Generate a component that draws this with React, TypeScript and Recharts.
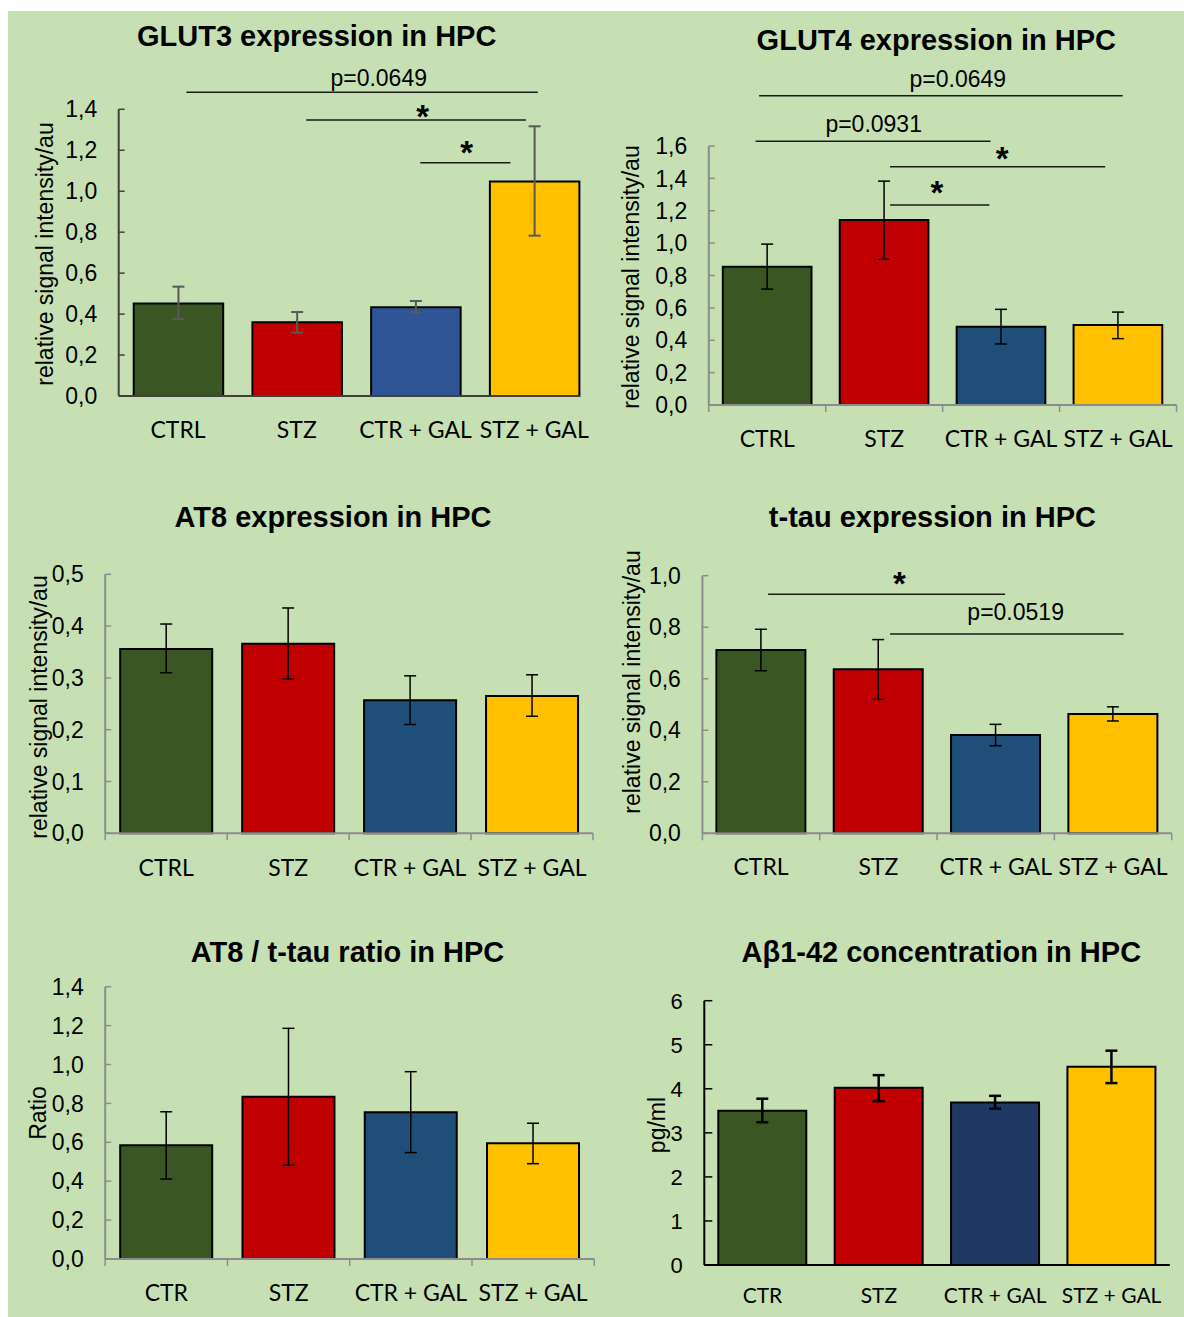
import React from 'react'
import { Bar, BarChart, Cell, ErrorBar, ReferenceDot, ReferenceLine, XAxis, YAxis } from 'recharts'

// groups
const groupsA = ['CTRL', 'STZ', 'CTR + GAL', 'STZ + GAL']
const groupsB = ['CTR', 'STZ', 'CTR + GAL', 'STZ + GAL']

// GLUT3
const glut3Mean = [0.452, 0.36, 0.433, 1.048]
const glut3Lo = [0.376, 0.309, 0.407, 0.783]
const glut3Hi = [0.534, 0.41, 0.464, 1.317]
const glut3Ticks = [0, 0.2, 0.4, 0.6, 0.8, 1.0, 1.2, 1.4]

// GLUT4
const glut4Mean = [0.854, 1.143, 0.484, 0.494]
const glut4Lo = [0.716, 0.9, 0.377, 0.41]
const glut4Hi = [0.994, 1.383, 0.591, 0.574]
const glut4Ticks = [0, 0.2, 0.4, 0.6, 0.8, 1.0, 1.2, 1.4, 1.6]

// AT8
const at8Mean = [0.356, 0.366, 0.257, 0.265]
const at8Lo = [0.31, 0.298, 0.21, 0.226]
const at8Hi = [0.404, 0.435, 0.304, 0.306]
const at8Ticks = [0, 0.1, 0.2, 0.3, 0.4, 0.5]

// t-tau
const tauMean = [0.712, 0.637, 0.382, 0.463]
const tauLo = [0.631, 0.52, 0.34, 0.436]
const tauHi = [0.792, 0.752, 0.423, 0.491]
const tauTicks = [0, 0.2, 0.4, 0.6, 0.8, 1.0]

// AT8 / t-tau
const ratioMean = [0.585, 0.834, 0.754, 0.595]
const ratioLo = [0.411, 0.483, 0.547, 0.49]
const ratioHi = [0.757, 1.186, 0.963, 0.698]
const ratioTicks = [0, 0.2, 0.4, 0.6, 0.8, 1.0, 1.2, 1.4]

// Abeta 1-42
const abMean = [3.5, 4.025, 3.69, 4.5]
const abLo = [3.24, 3.72, 3.55, 4.13]
const abHi = [3.775, 4.31, 3.84, 4.865]
const abTicks = [0, 1, 2, 3, 4, 5, 6]

// significance brackets (x on group index scale, y in value units)
type Bracket = { x1: number; x2: number; y: number; text: string; tx: number; ty: number }

const glut3Brackets: Bracket[] = [
  { x1: 0.07, x2: 3.03, y: 1.483, text: 'p=0.0649', tx: 1.69, ty: 1.514 },
  { x1: 1.08, x2: 2.93, y: 1.348, text: '*', tx: 2.06, ty: 1.294 },
  { x1: 2.04, x2: 2.8, y: 1.139, text: '*', tx: 2.43, ty: 1.118 },
]
const glut4Brackets: Bracket[] = [
  { x1: -0.07, x2: 3.04, y: 1.91, text: 'p=0.0649', tx: 1.63, ty: 1.962 },
  { x1: -0.1, x2: 1.91, y: 1.629, text: 'p=0.0931', tx: 0.91, ty: 1.684 },
  { x1: 1.05, x2: 2.89, y: 1.472, text: '*', tx: 2.01, ty: 1.433 },
  { x1: 1.05, x2: 1.9, y: 1.235, text: '*', tx: 1.45, ty: 1.223 },
]
const tauBrackets: Bracket[] = [
  { x1: 0.06, x2: 2.08, y: 0.928, text: '*', tx: 1.18, ty: 0.913 },
  { x1: 1.1, x2: 3.09, y: 0.774, text: 'p=0.0519', tx: 2.17, ty: 0.828 },
]

const GREEN = '#3A5723'
const RED = '#C00000'
const YELLOW = '#FFC000'
const ARIAL = '"Liberation Sans", Arial, sans-serif'

const panels = [
  {
    title: 'GLUT3 expression in HPC', yLabel: 'relative signal intensity/au', groups: groupsA,
    mean: glut3Mean, lo: glut3Lo, hi: glut3Hi, ticks: glut3Ticks, yMax: 1.4, brackets: glut3Brackets,
    colors: [GREEN, RED, '#2F5597', YELLOW], axisColor: '#404040', errColor: '#595959', errWidth: 2,
    boundaryTicks: false, axisEnd: 3.386, tickLen: 6, barSize: 89.5, labelDy: 41.7, catFont: 23, tickFont: 23,
    box: { left: 0, top: 0, width: 600, height: 470 }, margin: { left: 48.7, right: 6.4, top: 109.3, bottom: 24 },
    titlePos: [316.7, 36], yLabelPos: [45, 253.5],
  },
  {
    title: 'GLUT4 expression in HPC', yLabel: 'relative signal intensity/au', groups: groupsA,
    mean: glut4Mean, lo: glut4Lo, hi: glut4Hi, ticks: glut4Ticks, yMax: 1.6, brackets: glut4Brackets,
    colors: [GREEN, RED, '#1F4E79', YELLOW], axisColor: '#8C8C8C', errColor: '#000', errWidth: 1.5,
    boundaryTicks: true, tickLen: 6, barSize: 88.7, labelDy: 41.7, catFont: 23, tickFont: 23,
    box: { left: 600, top: 0, width: 584, height: 470 }, margin: { left: 38.8, right: 7.5, top: 146, bottom: 15 },
    titlePos: [936.3, 40], yLabelPos: [631, 276.5],
  },
  {
    title: 'AT8 expression in HPC', yLabel: 'relative signal intensity/au', groups: groupsA,
    mean: at8Mean, lo: at8Lo, hi: at8Hi, ticks: at8Ticks, yMax: 0.5, brackets: [] as Bracket[],
    colors: [GREEN, RED, '#1F4E79', YELLOW], axisColor: '#8C8C8C', errColor: '#000', errWidth: 1.5,
    boundaryTicks: true, tickLen: 6, barSize: 92, labelDy: 42.7, catFont: 23, tickFont: 23,
    box: { left: 0, top: 470, width: 600, height: 430 }, margin: { left: 35.2, right: 7, top: 104.3, bottom: 16.7 },
    titlePos: [333, 516.7], yLabelPos: [39, 706.5],
  },
  {
    title: 't-tau expression in HPC', yLabel: 'relative signal intensity/au', groups: groupsA,
    mean: tauMean, lo: tauLo, hi: tauHi, ticks: tauTicks, yMax: 1.0, brackets: tauBrackets,
    colors: [GREEN, RED, '#1F4E79', YELLOW], axisColor: '#8C8C8C', errColor: '#000', errWidth: 1.5,
    boundaryTicks: true, tickLen: 6, barSize: 89, labelDy: 42, catFont: 23, tickFont: 23,
    box: { left: 600, top: 470, width: 584, height: 430 }, margin: { left: 32.4, right: 12.3, top: 105.7, bottom: 16.7 },
    titlePos: [932.4, 516.7], yLabelPos: [631.5, 682],
  },
  {
    title: 'AT8  / t-tau ratio in HPC', yLabel: 'Ratio', groups: groupsB,
    mean: ratioMean, lo: ratioLo, hi: ratioHi, ticks: ratioTicks, yMax: 1.4, brackets: [] as Bracket[],
    colors: [GREEN, RED, '#1F4E79', YELLOW], axisColor: '#8C8C8C', errColor: '#000', errWidth: 1.5,
    boundaryTicks: true, tickLen: 6, barSize: 92, labelDy: 42, catFont: 23, tickFont: 23,
    box: { left: 0, top: 900, width: 600, height: 417 }, margin: { left: 35.2, right: 5.7, top: 86.7, bottom: 8 },
    titlePos: [347.5, 951.7], yLabelPos: [38, 1113],
  },
  {
    title: 'Aβ1-42 concentration in HPC', yLabel: 'pg/ml', groups: groupsB,
    mean: abMean, lo: abLo, hi: abHi, ticks: abTicks, yMax: 6, brackets: [] as Bracket[],
    colors: [GREEN, RED, '#1F3864', YELLOW], axisColor: '#000', errColor: '#000', errWidth: 2.5,
    boundaryTicks: false, tickLen: 8, barSize: 88, labelDy: 38.3, catFont: 21, tickFont: 22,
    box: { left: 600, top: 900, width: 584, height: 417 }, margin: { left: 34.3, right: 14.2, top: 100.7, bottom: 2 },
    titlePos: [941.3, 951.7], yLabelPos: [657, 1125],
  },
]

type PanelCfg = (typeof panels)[number] & { axisEnd?: number }

const xTicks = [-0.5, 0, 0.5, 1, 1.5, 2, 2.5, 3, 3.5]

function Panel({ p }: { p: PanelCfg }) {
  const data = p.groups.map((g, i) => ({
    x: i,
    name: g,
    value: p.mean[i],
    err: [p.mean[i] - p.lo[i], p.hi[i] - p.mean[i]],
  }))
  const decimals = p.yMax > 2 ? 0 : 1
  const fmt = (v: number) => v.toFixed(decimals).replace('.', ',')

  const renderTick = (props: any) => {
    const { x, y, payload } = props
    const v = payload.value
    if (Number.isInteger(v)) {
      return (
        <text x={x} y={y + p.labelDy} textAnchor="middle" fontFamily="Lato, sans-serif" fontSize={p.catFont} fill="#000">
          {p.groups[v]}
        </text>
      )
    }
    if (!p.boundaryTicks) return <g />
    return <line x1={x} y1={y} x2={x} y2={y + 7} stroke={p.axisColor} strokeWidth={1.5} />
  }

  return (
    <div style={{ position: 'absolute', left: p.box.left, top: p.box.top }}>
      <BarChart width={p.box.width} height={p.box.height} data={data} margin={p.margin}>
        <XAxis
          xAxisId="n"
          dataKey="x"
          type="number"
          domain={[-0.5, 3.5]}
          ticks={xTicks}
          interval={0}
          allowDecimals
          height={50}
          tick={renderTick}
          tickLine={false}
          tickSize={0}
          tickMargin={0}
          axisLine={p.axisEnd == null ? { stroke: p.axisColor, strokeWidth: 2 } : false}
        />
        <YAxis
          yAxisId="v"
          type="number"
          domain={[0, p.yMax]}
          ticks={p.ticks}
          interval={0}
          width={70}
          tickSize={-p.tickLen}
          tickMargin={p.tickLen + 21.5}
          tickFormatter={fmt}
          tick={{ fill: '#000', fontSize: p.tickFont, fontFamily: ARIAL }}
          axisLine={{ stroke: p.axisColor, strokeWidth: 2 }}
          tickLine={{ stroke: p.axisColor, strokeWidth: 1.5 }}
        />
        <Bar xAxisId="n" yAxisId="v" dataKey="value" barSize={p.barSize} stroke="#000" strokeWidth={2} isAnimationActive={false}>
          {data.map((d, i) => (
            <Cell key={`c-${i}`} fill={p.colors[i]} />
          ))}
          <ErrorBar dataKey="err" width={6} stroke={p.errColor} strokeWidth={p.errWidth} isAnimationActive={false} />
        </Bar>
        {p.axisEnd != null && (
          <ReferenceLine
            xAxisId="n"
            yAxisId="v"
            segment={[{ x: -0.5, y: 0 }, { x: p.axisEnd, y: 0 }]}
            stroke={p.axisColor}
            strokeWidth={2}
            ifOverflow="visible"
          />
        )}
        {p.brackets.map((b, i) => (
          <ReferenceLine
            key={`l-${i}`}
            xAxisId="n"
            yAxisId="v"
            segment={[{ x: b.x1, y: b.y }, { x: b.x2, y: b.y }]}
            stroke="#1a1a1a"
            strokeWidth={1.5}
            ifOverflow="visible"
          />
        ))}
        {p.brackets.map((b, i) => (
          <ReferenceDot
            key={`t-${i}`}
            xAxisId="n"
            yAxisId="v"
            x={b.tx}
            y={b.ty}
            r={0}
            ifOverflow="visible"
            shape={(sp: any) => {
              const star = b.text === '*'
              return (
                <text
                  x={sp.cx}
                  y={sp.cy}
                  dy={star ? -3 : 0}
                  textAnchor="middle"
                  fontFamily={ARIAL}
                  fontSize={star ? 33 : 23}
                  fontWeight={star ? 'bold' : 'normal'}
                  fill="#000"
                >
                  {b.text}
                </text>
              )
            }}
          />
        ))}
      </BarChart>
    </div>
  )
}

const textBase: React.CSSProperties = {
  position: 'absolute',
  whiteSpace: 'nowrap',
  lineHeight: 1,
  fontFamily: ARIAL,
  color: '#000',
}

export default function App() {
  return (
    <div style={{ position: 'absolute', left: 0, top: 0, width: 1184, height: 1317, background: '#fff' }}>
      <div style={{ position: 'absolute', left: 8, top: 11, width: 1176, height: 1306, background: '#C6E0B4' }} />
      {panels.map((p, i) => (
        <Panel key={i} p={p as PanelCfg} />
      ))}
      {panels.map((p, i) => (
        <div
          key={`title-${i}`}
          style={{
            ...textBase,
            left: p.titlePos[0],
            top: p.titlePos[1],
            fontSize: 29,
            fontWeight: 'bold',
            transform: 'translate(-50%, -50%)',
          }}
        >
          {p.title}
        </div>
      ))}
      {panels.map((p, i) => (
        <div
          key={`ylab-${i}`}
          style={{
            ...textBase,
            left: p.yLabelPos[0],
            top: p.yLabelPos[1],
            fontSize: 23,
            transform: 'translate(-50%, -50%) rotate(-90deg)',
          }}
        >
          {p.yLabel}
        </div>
      ))}
    </div>
  )
}
